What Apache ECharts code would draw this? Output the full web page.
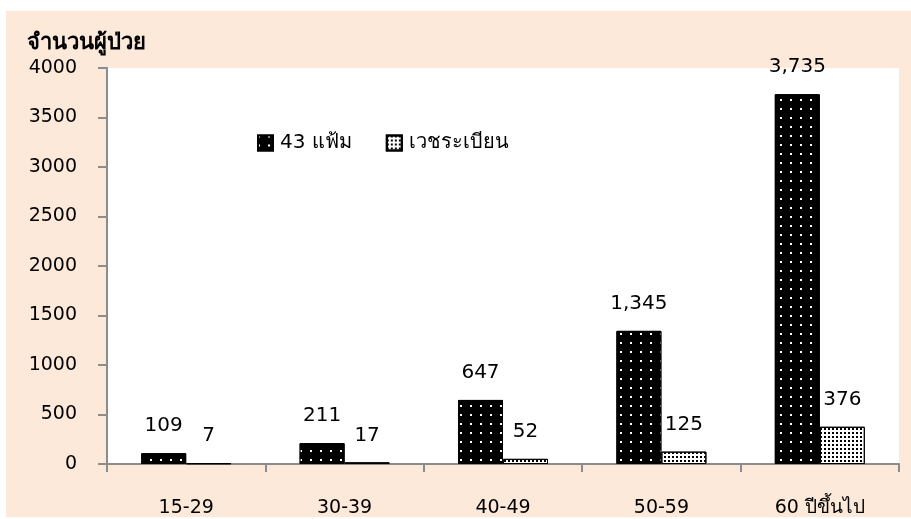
<!DOCTYPE html>
<html>
<head>
<meta charset="utf-8">
<script src="https://cdn.jsdelivr.net/npm/echarts@6/dist/echarts.min.js"></script>
<style>
html,body{margin:0;padding:0;background:#fff;}
#wrap{position:relative;width:911px;height:519px;overflow:hidden;}
#bg{position:absolute;left:6px;top:11px;width:905px;height:506px;background:#FDE9DA;}
#chart{position:absolute;left:0;top:0;width:911px;height:519px;}
</style>
</head>
<body>
<div id="wrap"><div id="bg"></div><div id="chart"></div></div>
<script>
var categories = ['15-29', '30-39', '40-49', '50-59', '60 ปีขึ้นไป'];
var seriesNames = ['43 แฟ้ม', 'เวชระเบียน'];
var files43 = [109, 211, 647, 1345, 3735];
var records = [7, 17, 52, 125, 376];
var yTicks = { min: 0, max: 4000, interval: 500 };

var FONT = 'Tahoma, "DejaVu Sans", "Noto Sans", sans-serif';
function commas(v) { return String(v).replace(/\B(?=(\d{3})+(?!\d))/g, ','); }

var chart = echarts.init(document.getElementById('chart'), null, { renderer: 'canvas' });
var axisCol = '#8c8c8c';
chart.setOption({
  backgroundColor: 'transparent',
  textStyle: { fontFamily: FONT },
  grid: { left: 107, right: 12, top: 68, bottom: 55, show: true, backgroundColor: '#ffffff', borderWidth: 0 },
  legend: {
    left: 252, top: 128, itemWidth: 15, itemHeight: 15, itemGap: 34,
    icon: 'rect',
    textStyle: { fontSize: 20, color: '#000', fontFamily: FONT, padding: [0, 0, 0, 2] },
    data: seriesNames
  },
  xAxis: {
    type: 'category', data: categories,
    axisLine: { lineStyle: { color: axisCol, width: 2 } },
    axisTick: { show: true, length: 8, lineStyle: { color: axisCol, width: 2 } },
    axisLabel: { color: '#000', fontSize: 19, margin: 35, fontFamily: FONT }
  },
  yAxis: {
    type: 'value', min: yTicks.min, max: yTicks.max, interval: yTicks.interval,
    name: 'จำนวนผู้ป่วย',
    nameLocation: 'end', nameGap: 14,
    nameTextStyle: { color: '#000', fontSize: 22, fontWeight: 'bold', align: 'left', padding: [0, 0, 0, -80], fontFamily: FONT },
    axisLine: { show: true, lineStyle: { color: axisCol, width: 2 } },
    axisTick: { show: true, length: 9, lineStyle: { color: axisCol, width: 2 } },
    splitLine: { show: false },
    axisLabel: { color: '#000', fontSize: 19, margin: 30, fontFamily: FONT, formatter: function (v) { return String(v); } }
  },
  series: [
    {
      name: seriesNames[0], type: 'bar', data: files43,
      barWidth: 45, barGap: '0%',
      itemStyle: {
        color: '#000', borderColor: '#000', borderWidth: 1,
        decal: { symbol: 'rect', symbolSize: 1, color: '#ffffff', dashArrayX: [[2, 8]], dashArrayY: [2, 7] }
      },
      label: { show: true, position: 'top', distance: 17, color: '#000', fontSize: 20, fontFamily: FONT, formatter: function (p) { return commas(p.value); } }
    },
    {
      name: seriesNames[1], type: 'bar', data: records,
      barWidth: 45,
      itemStyle: {
        color: '#ffffff', borderColor: '#000', borderWidth: 1,
        decal: { symbol: 'rect', symbolSize: 1, color: '#000', dashArrayX: [[1.5, 1.8]], dashArrayY: [1.5, 1.8] }
      },
      label: { show: true, position: 'top', distance: 17, color: '#000', fontSize: 20, fontFamily: FONT, formatter: function (p) { return commas(p.value); } }
    }
  ]
});
</script>
</body>
</html>
